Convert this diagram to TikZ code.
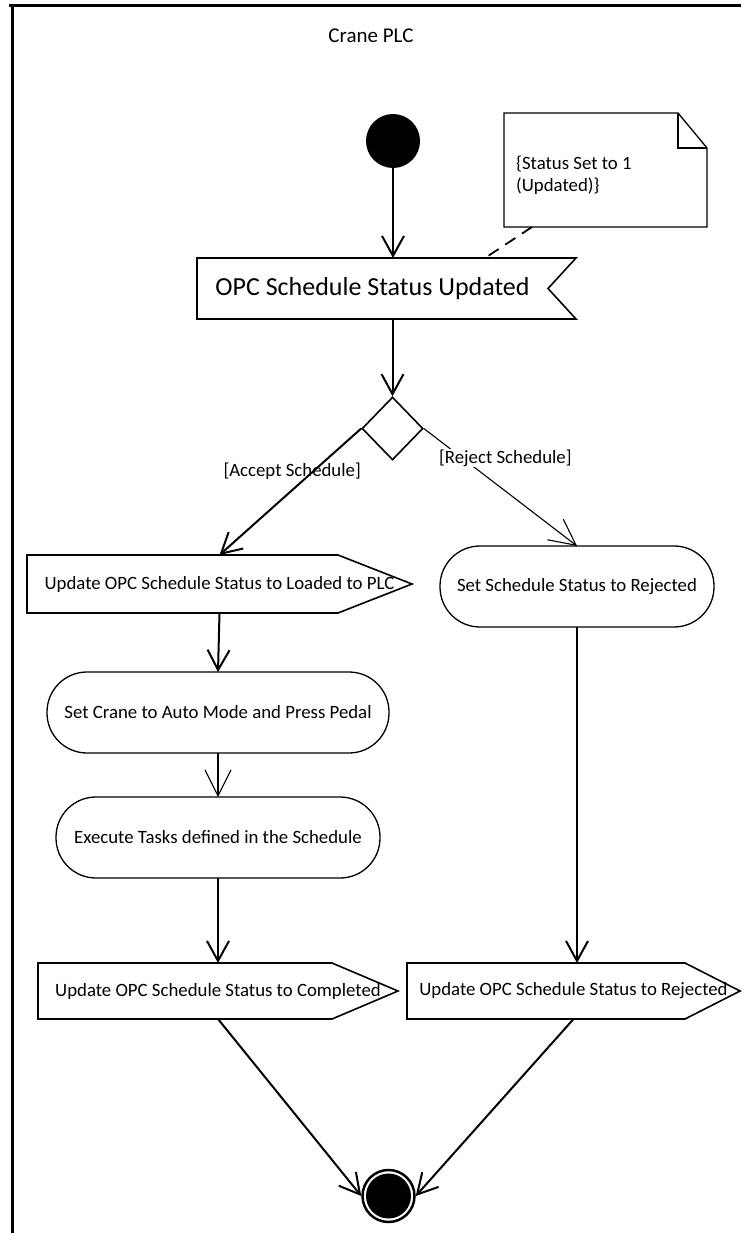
\documentclass[tikz,border=0pt]{standalone}
\usepackage{fontspec}
\setmainfont{Carlito}
\usetikzlibrary{arrows.meta,calc,shapes.geometric}

\begin{document}
\begin{tikzpicture}[x=1pt,y=-1pt,
  every node/.style={font=\fontsize{18.8}{22.5}\selectfont},
  box/.style={rectangle, draw=none, inner sep=0pt, outer sep=0pt},
  outline/.style={draw, line width=1.6pt, line join=miter},
  action/.style={rectangle, rounded corners=40pt, draw, line width=1.3pt,
                 inner sep=0pt, outer sep=0pt, minimum height=81pt},
  flow/.style={draw, line width=2pt, -{Straight Barb[length=20pt,width=22pt]}},
  thinflow/.style={draw, line width=1.1pt, -{Straight Barb[length=26pt,width=26pt]}},
  guard/.style={inner sep=1pt}
]
\useasboundingbox (0,0) rectangle (741,1233);

% swimlane frame and title
\draw[line width=3pt] (9,6) -- (741,6);
\draw[line width=3pt] (12,6) -- (12,1233);
\node[font=\fontsize{21}{25}\selectfont] (lane) at (371,36) {Crane PLC};

% initial node
\node[circle, fill, minimum size=54pt, inner sep=0pt] (init) at (393,141) {};

% accept event: schedule status updated
\node[box, minimum width=351pt, minimum height=61pt,
      font=\fontsize{26}{31}\selectfont] (recv) at (372.5,288.5) {OPC Schedule Status Updated};
\draw[outline] (recv.south west) -- (recv.north west) -- ($(recv.north east)+(28,0)$)
  -- (recv.east) -- ($(recv.south east)+(28,0)$) -- cycle;

% comment note
\node[box, minimum width=203pt, minimum height=114pt] (note) at (605.5,170) {};
\draw[line width=1.3pt, line join=miter] (note.south west) -- (note.north west)
  -- ($(note.north east)+(-29,0)$) -- ($(note.north east)+(0,35)$) -- (note.south east) -- cycle;
\draw[line width=1.3pt, line join=miter] ($(note.north east)+(-29,0)$) |- ($(note.north east)+(0,35)$);
\node[anchor=west, align=left, inner sep=0pt] (notetext) at (516,175) {\{Status Set to 1\\(Updated)\}};
\draw[line width=1.8pt, dash pattern=on 12pt off 8pt]
  ($(note.south west)+(28,0)$) -- ($(recv.north west)+(288,0)$);

% decision
\node[diamond, draw, line width=1.6pt, minimum width=61pt, minimum height=63pt,
      inner sep=0pt] (dec) at (392.5,428.5) {};

% send signal: loaded to PLC
\node[box, minimum width=385pt, minimum height=58pt] (send1) at (219.5,584)
  {Update OPC Schedule Status to Loaded to PLC};
\draw[outline] (send1.north west) -- ($(send1.north east)+(-74,0)$) -- (send1.east)
  -- ($(send1.south east)+(-74,0)$) -- (send1.south west) -- cycle;

% actions
\node[action, minimum width=274pt] (rej) at (577,586.5) {Set Schedule Status to Rejected};
\node[action, minimum width=342pt] (crane) at (218,712.5) {Set Crane to Auto Mode and Press Pedal};
\node[action, minimum width=324pt] (exec) at (218,837.5) {Execute Tasks defined in the Schedule};

% send signals: completed / rejected
\node[box, minimum width=360pt, minimum height=56pt] (send2) at (218,991)
  {Update OPC Schedule Status to Completed};
\draw[outline] (send2.north west) -- ($(send2.north east)+(-66,0)$) -- (send2.east)
  -- ($(send2.south east)+(-66,0)$) -- (send2.south west) -- cycle;
\node[box, minimum width=333pt, minimum height=56pt] (send3) at (573.5,991)
  {Update OPC Schedule Status to Rejected};
\draw[outline] (send3.north west) -- ($(send3.north east)+(-55,0)$) -- (send3.east)
  -- ($(send3.south east)+(-55,0)$) -- (send3.south west) -- cycle;

% final node
\node[circle, draw, line width=2.5pt, minimum size=52pt, inner sep=0pt] (final) at (388.5,1196) {};
\fill (final.center) circle (22.5pt);

% control flows
\draw[flow] (init) -- (init |- recv.north);
\draw[flow] (recv.south -| dec.north) -- (dec.north);
\node[guard, anchor=east] (acceptlbl) at (362,471) {[Accept Schedule]};
\draw[flow] (dec.west) -- (send1.north);
\draw[thinflow] (dec.east) -- (rej.north);
\node[guard, anchor=west, fill=white] (rejectlbl) at (438,458) {[Reject Schedule]};
\draw[flow] (send1.south) -- (crane.north);
\draw[thinflow] (crane.south) -- (exec.north);
\draw[flow] (exec.south) -- (send2.north);
\draw[flow] (rej.south) -- (rej.south |- send3.north);
\draw[flow] (send2.south) -- (final.west);
\draw[flow] (send3.south) -- (final.east);
\end{tikzpicture}
\end{document}
